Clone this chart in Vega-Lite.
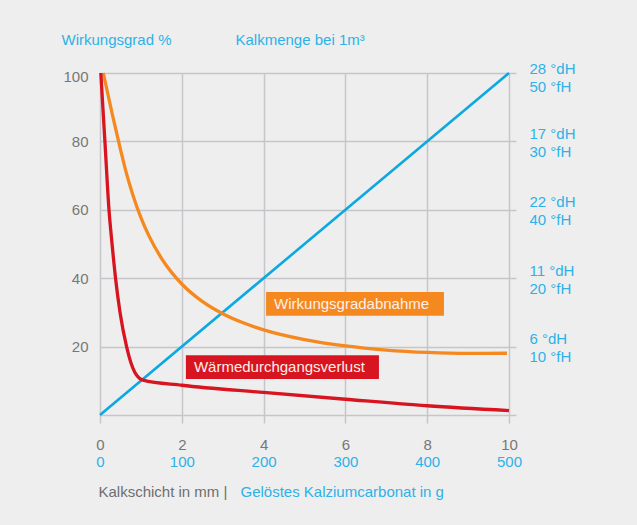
{
  "$schema": "https://vega.github.io/schema/vega-lite/v6.json",
  "width": 409,
  "height": 342,
  "autosize": {"type": "none"},
  "padding": {"left": 100, "top": 73, "right": 128, "bottom": 110},
  "background": "#eeeeee",
  "config": {
    "view": {"stroke": null},
    "axis": {
      "labelFont": "Liberation Sans",
      "titleFont": "Liberation Sans",
      "labelFontSize": 15,
      "titleFontSize": 15,
      "titleFontWeight": "normal",
      "gridColor": "#c6c6ca",
      "gridWidth": 1.5,
      "gridOpacity": 1,
      "tickColor": "#c6c6ca",
      "tickWidth": 1.5,
      "domain": false,
      "labelOverlap": false,
      "labelFlush": false
    }
  },
  "resolve": {
    "scale": {"x": "independent", "y": "independent"},
    "axis": {"x": "independent", "y": "independent"}
  },
  "layer": [
    {
      "data": {"values": [{"g": 0, "v": 0}, {"g": 500, "v": 100}]},
      "mark": {"type": "line", "color": "#0ba8e2", "strokeWidth": 2.6},
      "encoding": {
        "x": {
          "field": "g", "type": "quantitative",
          "scale": {"domain": [0, 500], "nice": false},
          "axis": {
            "orient": "bottom", "values": [0, 100, 200, 300, 400, 500],
            "grid": false, "ticks": false, "tickSize": 8, "offset": 18, "labelPadding": 21,
            "labelColor": "#2cb2e8",
            "title": "Gelöstes Kalziumcarbonat in g", "titleColor": "#2cb2e8",
            "titleAlign": "left", "titleAnchor": "start", "titleX": 140, "titleY": 63,
            "titleBaseline": "alphabetic"
          }
        },
        "y": {
          "field": "v", "type": "quantitative",
          "scale": {"domain": [0, 100], "nice": false},
          "axis": {
            "orient": "right", "values": [0, 20, 40, 60, 80, 100],
            "grid": false, "ticks": true, "tickSize": 7, "labelPadding": 13,
            "labelAlign": "left", "labelColor": "#2cb2e8", "labelLineHeight": 18,
            "labelOffset": {"condition": {"test": "datum.value == 100", "value": -5}, "value": -8},
            "labelExpr": "datum.value == 100 ? ['28 °dH', '50 °fH'] : datum.value == 80 ? ['17 °dH', '30 °fH'] : datum.value == 60 ? ['22 °dH', '40 °fH'] : datum.value == 40 ? ['11 °dH', '20 °fH'] : datum.value == 20 ? ['6 °dH', '10 °fH'] : ''",
            "title": "Kalkmenge bei 1m³", "titleColor": "#2cb2e8",
            "titleAngle": 0, "titleAlign": "left", "titleBaseline": "alphabetic",
            "titleX": -274, "titleY": -28.5
          }
        }
      }
    },
    {
      "layer": [
        {
          "data": {"values": [
            {"series": "Wirkungsgradabnahme", "x": 0.08, "y": 100},
            {"series": "Wirkungsgradabnahme", "x": 0.3, "y": 88},
            {"series": "Wirkungsgradabnahme", "x": 0.5, "y": 77.7},
            {"series": "Wirkungsgradabnahme", "x": 0.65, "y": 70.5},
            {"series": "Wirkungsgradabnahme", "x": 0.8, "y": 64.5},
            {"series": "Wirkungsgradabnahme", "x": 1.0, "y": 57.7},
            {"series": "Wirkungsgradabnahme", "x": 1.2, "y": 52.3},
            {"series": "Wirkungsgradabnahme", "x": 1.5, "y": 45.9},
            {"series": "Wirkungsgradabnahme", "x": 1.75, "y": 41.7},
            {"series": "Wirkungsgradabnahme", "x": 2, "y": 38.3},
            {"series": "Wirkungsgradabnahme", "x": 2.5, "y": 33.2},
            {"series": "Wirkungsgradabnahme", "x": 3, "y": 29.6},
            {"series": "Wirkungsgradabnahme", "x": 3.5, "y": 26.95},
            {"series": "Wirkungsgradabnahme", "x": 4, "y": 24.9},
            {"series": "Wirkungsgradabnahme", "x": 5, "y": 22.05},
            {"series": "Wirkungsgradabnahme", "x": 6, "y": 20.2},
            {"series": "Wirkungsgradabnahme", "x": 7, "y": 19.0},
            {"series": "Wirkungsgradabnahme", "x": 8, "y": 18.3},
            {"series": "Wirkungsgradabnahme", "x": 9, "y": 18.0},
            {"series": "Wirkungsgradabnahme", "x": 9.95, "y": 18.05},
            {"series": "Wärmedurchgangsverlust", "x": 0.02, "y": 100},
            {"series": "Wärmedurchgangsverlust", "x": 0.12, "y": 80},
            {"series": "Wärmedurchgangsverlust", "x": 0.22, "y": 60},
            {"series": "Wärmedurchgangsverlust", "x": 0.295, "y": 50},
            {"series": "Wärmedurchgangsverlust", "x": 0.38, "y": 40},
            {"series": "Wärmedurchgangsverlust", "x": 0.49, "y": 30},
            {"series": "Wärmedurchgangsverlust", "x": 0.65, "y": 20},
            {"series": "Wärmedurchgangsverlust", "x": 0.75, "y": 15.5},
            {"series": "Wärmedurchgangsverlust", "x": 0.85, "y": 12.5},
            {"series": "Wärmedurchgangsverlust", "x": 0.95, "y": 10.9},
            {"series": "Wärmedurchgangsverlust", "x": 1.05, "y": 10.2},
            {"series": "Wärmedurchgangsverlust", "x": 2, "y": 8.7},
            {"series": "Wärmedurchgangsverlust", "x": 4, "y": 6.6},
            {"series": "Wärmedurchgangsverlust", "x": 6, "y": 4.6},
            {"series": "Wärmedurchgangsverlust", "x": 8, "y": 2.7},
            {"series": "Wärmedurchgangsverlust", "x": 10, "y": 1.3}
          ]},
          "mark": {"type": "line", "strokeWidth": 3.3, "interpolate": "monotone"},
          "encoding": {
            "x": {
              "field": "x", "type": "quantitative",
              "scale": {"domain": [0, 10], "nice": false},
              "axis": {
                "orient": "bottom", "values": [0, 2, 4, 6, 8, 10],
                "grid": true, "ticks": true, "tickSize": 8, "labelPadding": 14,
                "labelColor": "#777777",
                "title": "Kalkschicht in mm |", "titleColor": "#6e6e6e",
                "titleAlign": "left", "titleAnchor": "start", "titleX": -2, "titleY": 81,
                "titleBaseline": "alphabetic"
              }
            },
            "y": {
              "field": "y", "type": "quantitative",
              "scale": {"domain": [0, 100], "nice": false},
              "axis": {
                "orient": "left", "values": [0, 20, 40, 60, 80, 100],
                "grid": true, "ticks": false, "tickSize": 0, "labelPadding": 12,
                "labelColor": "#777777",
                "labelOffset": {"condition": {"test": "datum.value == 100", "value": 3}, "value": 0},
                "labelExpr": "datum.value == 0 ? '' : datum.label",
                "title": "Wirkungsgrad %", "titleColor": "#2cb2e8",
                "titleAngle": 0, "titleAlign": "left", "titleBaseline": "alphabetic",
                "titleX": -39, "titleY": -28.5
              }
            },
            "color": {
              "field": "series", "type": "nominal",
              "scale": {"domain": ["Wirkungsgradabnahme", "Wärmedurchgangsverlust"], "range": ["#f5891f", "#d7141f"]},
              "legend": null
            }
          }
        },
        {
          "data": {"values": [
            {"series": "Wirkungsgradabnahme", "x": 4.06, "x2": 8.41, "y": 29.0, "y2": 36.0},
            {"series": "Wärmedurchgangsverlust", "x": 2.1, "x2": 6.82, "y": 10.5, "y2": 17.5}
          ]},
          "layer": [
            {
              "mark": {"type": "rect"},
              "encoding": {
                "x": {"field": "x", "type": "quantitative"},
                "x2": {"field": "x2"},
                "y": {"field": "y", "type": "quantitative"},
                "y2": {"field": "y2"},
                "color": {"field": "series", "type": "nominal", "legend": null}
              }
            },
            {
              "mark": {"type": "text", "align": "left", "baseline": "middle", "dx": 8, "dy": -12, "font": "Liberation Sans", "fontSize": 15, "color": "#fcefe6"},
              "encoding": {
                "x": {"field": "x", "type": "quantitative"},
                "y": {"field": "y", "type": "quantitative"},
                "text": {"field": "series"}
              }
            }
          ]
        }
      ]
    }
  ]
}
